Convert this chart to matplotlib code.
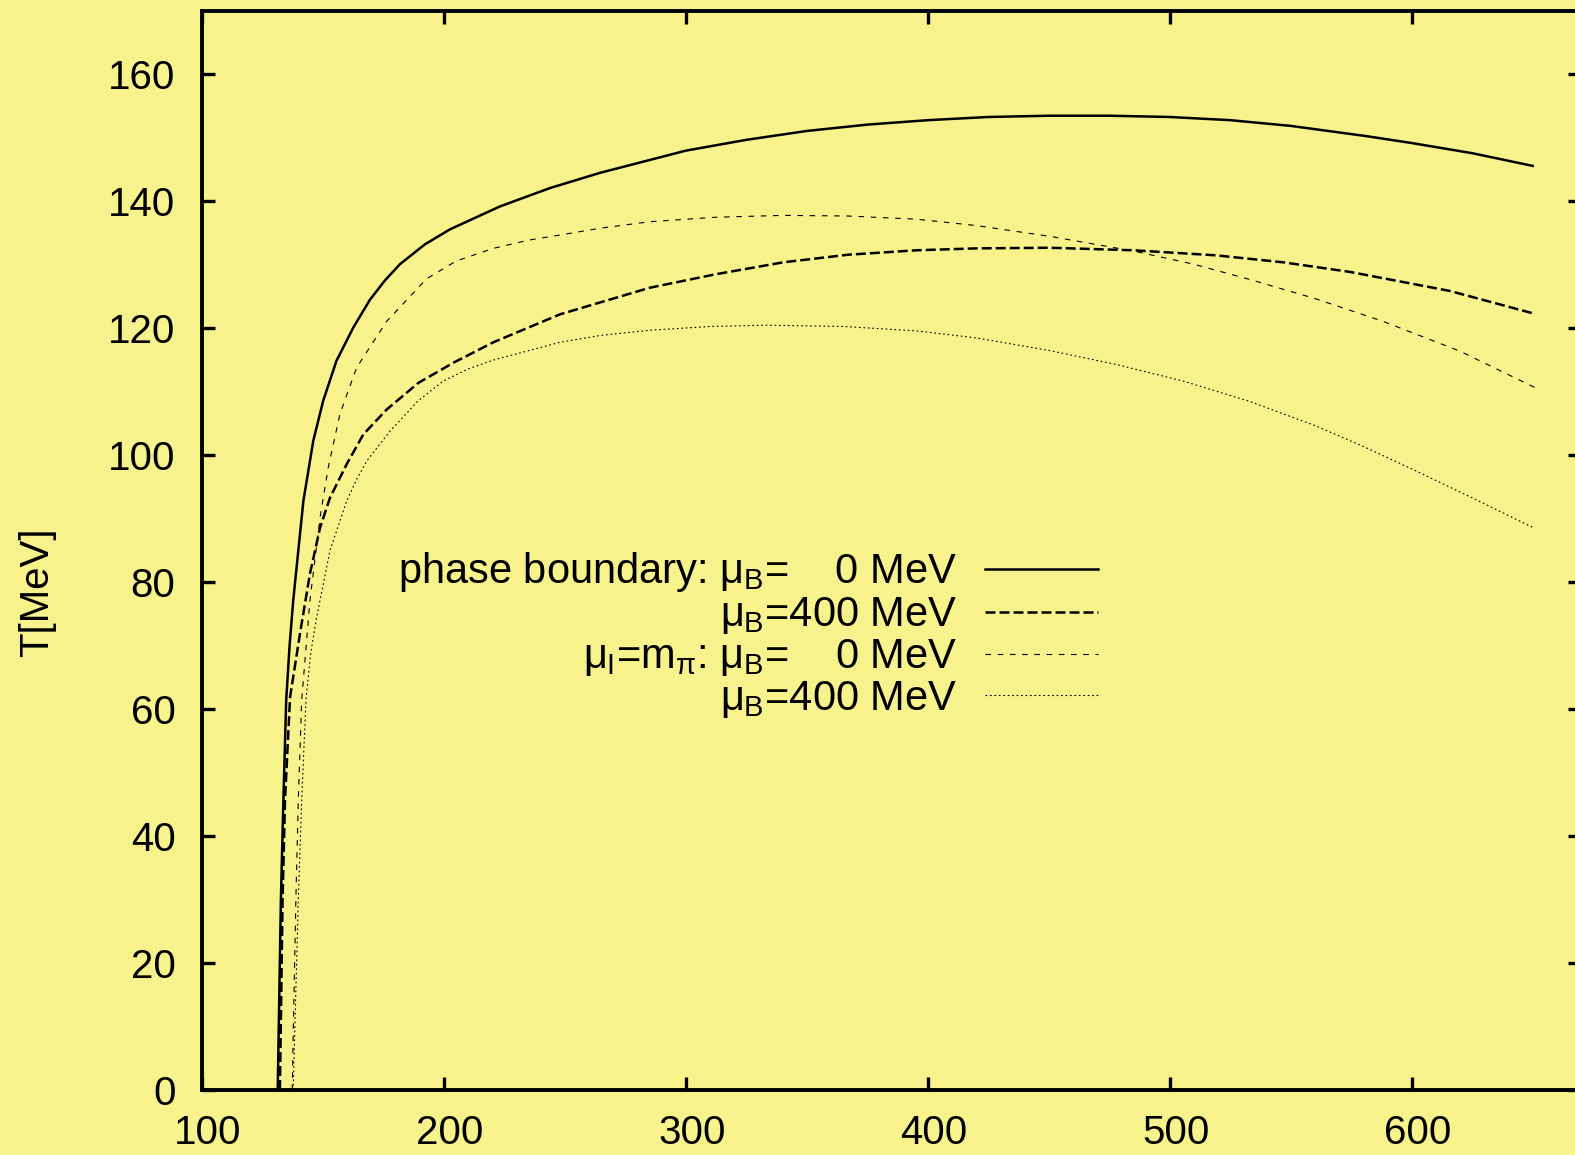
import matplotlib
matplotlib.use("Agg")
import matplotlib.pyplot as plt
from matplotlib.lines import Line2D
from matplotlib.transforms import ScaledTranslation

plt.rcParams['font.family'] = ['Liberation Sans', 'DejaVu Sans']
plt.rcParams['mathtext.fontset'] = 'custom'
plt.rcParams['mathtext.rm'] = 'Liberation Sans'
plt.rcParams['mathtext.it'] = 'Liberation Sans'
plt.rcParams['mathtext.bf'] = 'Liberation Sans:bold'

# phase boundary, mu_B = 0
x_pb0 = [131.3, 132.6, 133.6, 134.8, 136.2, 137.7, 141.9, 146.0, 150.1, 155.6,
         162.5, 169.4, 175.5, 181.8, 192.0, 202.5, 223.1, 243.8, 264.5, 300,
         325, 350, 375, 400, 425, 450, 475, 500, 525, 550, 581, 600, 625, 650]
T_pb0 = [0, 29.9, 45.0, 61.4, 70.0, 77.1, 92.8, 102.3, 108.6, 114.9,
         120.1, 124.5, 127.5, 130.1, 133.2, 135.6, 139.2, 142.1, 144.5, 148.0,
         149.7, 151.1, 152.1, 152.8, 153.3, 153.5, 153.5, 153.3, 152.8, 151.9,
         150.3, 149.2, 147.6, 145.6]

# phase boundary, mu_B = 400
x_pb400 = [132.2, 133.3, 134.3, 136.4, 140.5, 144.6, 148.8, 152.9, 159.8, 166.7,
           176.3, 189.4, 204.0, 220.4, 247.9, 285.1, 312.0, 340.2, 367.0, 395.3,
           420.0, 450.4, 485.0, 519.3, 547.0, 574.4, 615.7, 650.8]
T_pb400 = [0, 29.9, 45.6, 61.9, 71.9, 81.3, 88.6, 93.3, 98.6, 103.3,
           107.2, 111.4, 114.6, 117.8, 122.2, 126.4, 128.5, 130.4, 131.6, 132.3,
           132.6, 132.7, 132.3, 131.5, 130.4, 128.9, 125.9, 122.3]

# mu_I = m_pi, mu_B = 0
x_iso0 = [137.3, 137.7, 138.8, 139.8, 141.2, 144.6, 148.8, 152.2, 157.0, 163.9,
          176.3, 192.8, 205.0, 220.4, 235.0, 247.9, 265.0, 285.1, 312.0, 340.2,
          367.0, 395.3, 420.0, 450.4, 484.8, 510.0, 533.1, 560.0, 588.2, 620.0,
          650.8]
T_iso0 = [0, 8.9, 29.9, 45.6, 61.4, 77.1, 90.2, 98.1, 106.5, 113.8,
          121.1, 127.8, 130.6, 132.6, 133.9, 134.7, 135.8, 136.8, 137.5, 137.8,
          137.7, 137.2, 136.2, 134.5, 132.2, 130.1, 127.7, 124.7, 121.1, 116.4,
          110.7]

# mu_I = m_pi, mu_B = 400
x_iso400 = [137.7, 139.8, 141.2, 143.0, 145.0, 147.4, 152.9, 159.8, 163.9, 168.1,
            177.7, 189.4, 199.7, 210.0, 220.4, 247.9, 265.0, 285.1, 310.0, 333.3,
            365.0, 395.3, 420.0, 450.4, 478.0, 505.5, 533.0, 560.6, 580.0, 602.0,
            625.0, 650.8]
T_iso400 = [0, 29.9, 45.6, 61.6, 69.0, 74.5, 85.0, 92.8, 96.2, 99.1,
            103.8, 108.6, 111.7, 113.6, 115.0, 117.8, 118.9, 119.7, 120.3, 120.5,
            120.3, 119.6, 118.5, 116.5, 114.3, 111.7, 108.5, 104.6, 101.4, 97.5,
            93.3, 88.5]

labels = [
    "phase boundary: $\\mu_{\\rm B}$=    0 MeV",
    "$\\mu_{\\rm B}$=400 MeV",
    "$\\mu_{\\rm I}$=m$_{\\pi}$: $\\mu_{\\rm B}$=    0 MeV",
    "$\\mu_{\\rm B}$=400 MeV",
]
xticks = [100, 200, 300, 400, 500, 600]
yticks = [0, 20, 40, 60, 80, 100, 120, 140, 160]

bg = '#f8f28c'
fig = plt.figure(figsize=(15.75, 11.55), dpi=100, facecolor=bg)
ax = fig.add_axes([202 / 1575, 65 / 1155, 1379 / 1575, 1079 / 1155])
ax.set_facecolor(bg)

styles = [
    dict(color='black', lw=1.8, ls='-'),
    dict(color='black', lw=1.8, ls=(0, (4, 1.6))),
    dict(color='black', lw=0.8, ls=(0, (5, 6))),
    dict(color='black', lw=0.8, ls=(0, (1.5, 2.5))),
]
series = [(x_pb0, T_pb0), (x_pb400, T_pb400), (x_iso0, T_iso0), (x_iso400, T_iso400)]
for (xs, ts), st in zip(series, styles):
    ax.plot(xs, ts, **st)

ax.set_xlim(100, 670)
ax.set_ylim(0, 170)
ax.set_xticks(xticks)
ax.set_yticks(yticks)
ax.tick_params(direction='in', length=9.4, width=2.4, labelsize=29,
               top=True, right=True)
ax.tick_params(axis='x', pad=17)
ax.tick_params(axis='y', pad=19)
for sp in ax.spines.values():
    sp.set_linewidth(2.8)

off = ScaledTranslation(6 / 100, 0, fig.dpi_scale_trans)
for lab in ax.get_xticklabels():
    lab.set_transform(lab.get_transform() + off)

ax.set_ylabel("T[MeV]", fontsize=29)
ax.yaxis.set_label_coords(-0.106, 0.461)

handles = [Line2D([], [], **st) for st in styles]
ax.legend(handles, labels, loc='upper right', bbox_to_anchor=(0.6496, 0.500),
          frameon=False, markerfirst=False, fontsize=30, handlelength=2.7,
          handletextpad=0.67, labelspacing=0.02, borderpad=0, borderaxespad=0)

fig.savefig("out.png", dpi=100, facecolor=bg)
